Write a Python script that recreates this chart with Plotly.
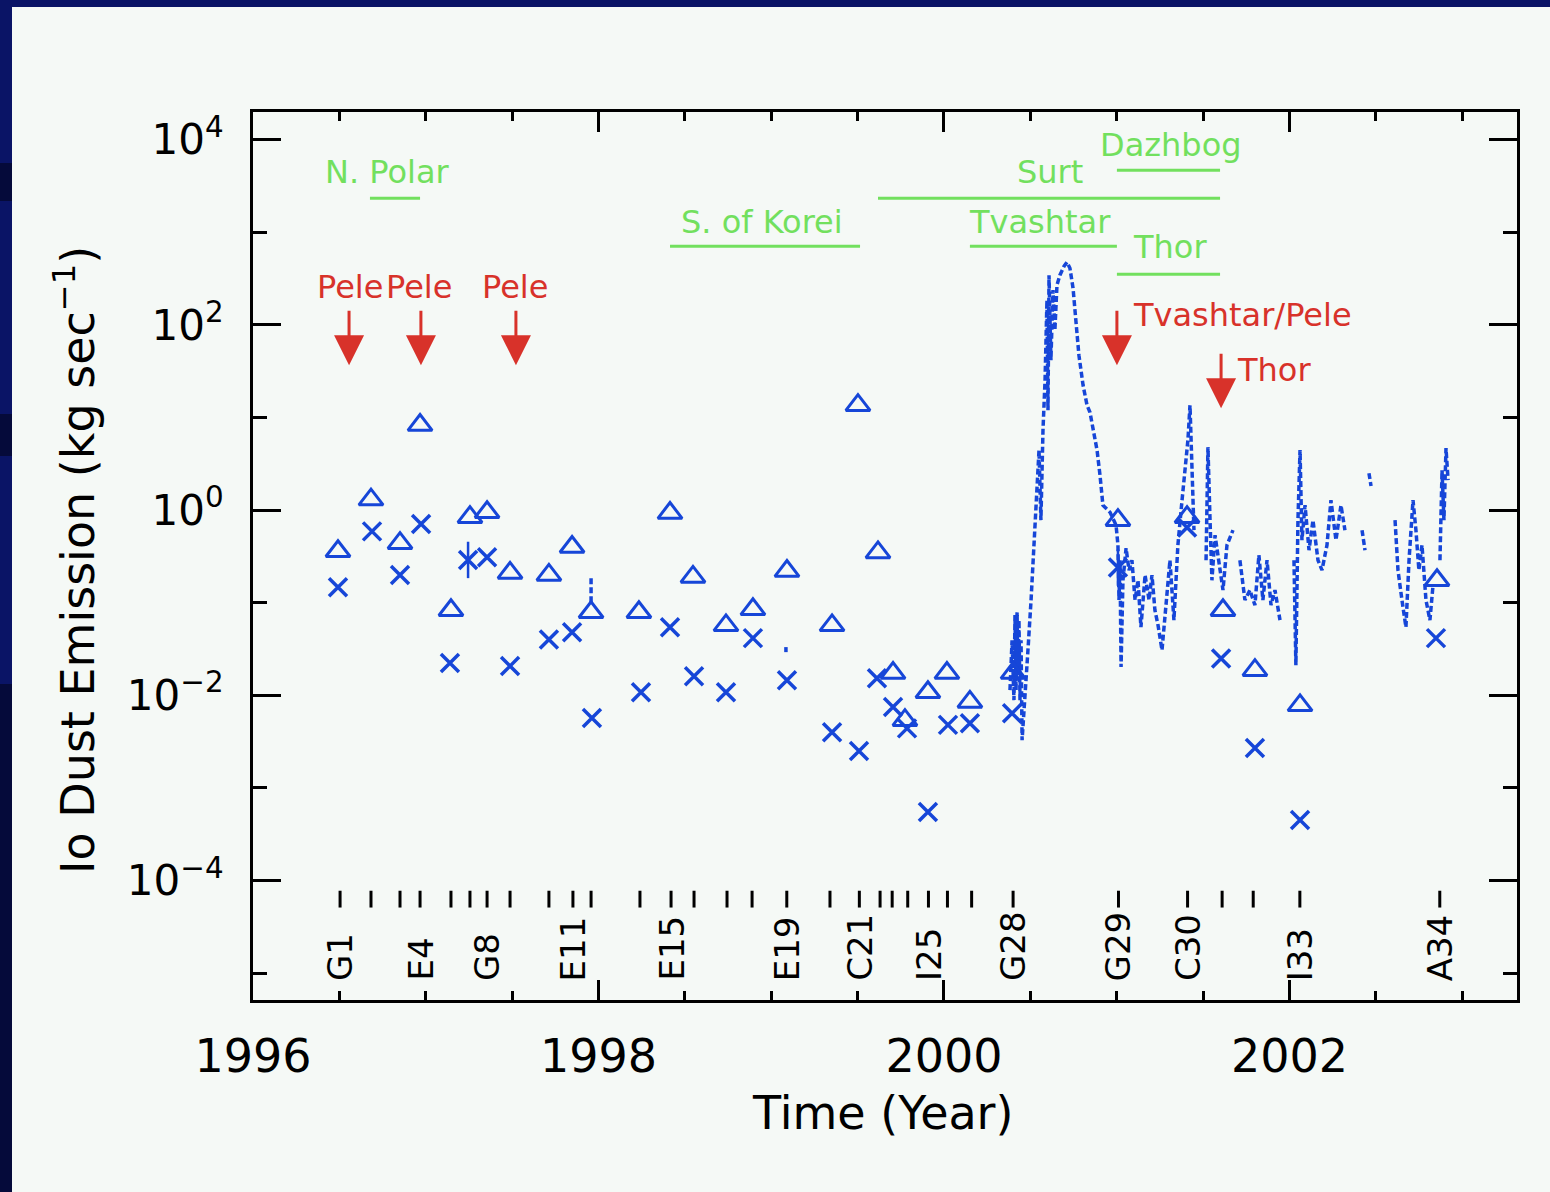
import numpy as np
import plotly.graph_objects as go

# ---------------- data ----------------
# Galileo orbit encounter times (decimal year)
orbit_years = [1996.504, 1996.683, 1996.851, 1996.967, 1997.146, 1997.256, 1997.355, 1997.488,
               1997.713, 1997.852, 1997.957, 1998.240, 1998.420, 1998.553, 1998.744, 1998.889,
               1999.090, 1999.340, 1999.510, 1999.630, 1999.700, 1999.790, 1999.910, 2000.020,
               2000.160, 2000.400, 2001.010, 2001.410, 2001.610, 2001.790, 2002.060, 2002.870]
orbit_labels = ['G1', 'E4', 'G8', 'E11', 'E15', 'E19', 'C21', 'I25', 'G28', 'G29', 'C30', 'I33', 'A34']
orbit_label_years = [1996.504, 1996.967, 1997.355, 1997.852, 1998.420, 1999.090, 1999.510,
                     1999.910, 2000.400, 2001.010, 2001.410, 2002.060, 2002.870]

# y tick labels
y_tick_vals = [1e-4, 1e-2, 1, 1e2, 1e4]
y_tick_text = ['10<sup>\u22124</sup>', '10<sup>\u22122</sup>', '10<sup>0</sup>',
               '10<sup>2</sup>', '10<sup>4</sup>']
y_minor_vals = [1e-5, 1e-3, 1e-1, 1e1, 1e3]

# triangles
tri_years = [1996.492, 1996.683, 1996.851, 1996.967, 1997.146, 1997.256, 1997.355, 1997.488,
             1997.713, 1997.847, 1997.957, 1998.234, 1998.414, 1998.547, 1998.738, 1998.894,
             1999.091, 1999.352, 1999.502, 1999.618, 1999.705, 1999.774, 1999.907, 2000.017,
             2000.150, 2000.400, 2001.007, 2001.407, 2001.615, 2001.800, 2002.061, 2002.854]
tri_vals = [0.36, 1.3, 0.44, 8.3, 0.083, 0.84, 0.95, 0.21, 0.20, 0.40, 0.079, 0.079, 0.93, 0.19,
            0.057, 0.085, 0.22, 0.057, 13.6, 0.35, 0.0174, 0.0054, 0.0108, 0.0174, 0.0085,
            0.0174, 0.78, 0.84, 0.083, 0.0187, 0.0078, 0.175]

# crosses
x_years = [1996.492, 1996.689, 1996.851, 1996.973, 1997.140, 1997.245, 1997.355, 1997.488,
           1997.713, 1997.847, 1997.962, 1998.246, 1998.414, 1998.553, 1998.738, 1998.894,
           1999.091, 1999.352, 1999.508, 1999.612, 1999.705, 1999.786, 1999.907, 2000.023,
           2000.150, 2000.394, 2001.007, 2001.407, 2001.604, 2001.800, 2002.061, 2002.848]
x_vals = [0.147, 0.59, 0.20, 0.71, 0.0223, 0.29, 0.31, 0.0207, 0.040, 0.048, 0.0057, 0.0108,
          0.0545, 0.0161, 0.0108, 0.0415, 0.0146, 0.0040, 0.0025, 0.0153, 0.0075, 0.0044,
          0.00055, 0.0048, 0.0050, 0.0064, 0.24, 0.65, 0.025, 0.0027, 0.00045, 0.0415]

# crosses with vertical bar (asterisk-like)
star_years = [1997.245, 2001.007]
star_vals = [0.29, 0.24]

# dust detector continuous record (None = gap)
dds_years = [1997.957, 1997.957, None, 1999.085, 1999.085, None,
             2000.382, 2000.394, 2000.405, 2000.411, 2000.417, 2000.423, 2000.428, 2000.434,
             2000.440, 2000.446, 2000.452, 2000.469, 2000.486, 2000.504, 2000.521, 2000.538,
             2000.550, 2000.561, 2000.573, 2000.585, 2000.596, 2000.602, 2000.608, 2000.619,
             2000.631, 2000.642, 2000.654, 2000.671, 2000.695, 2000.712, 2000.729, 2000.747,
             2000.764, 2000.781, 2000.805, 2000.828, 2000.845, 2000.862, 2000.886, 2000.903,
             2000.920, 2000.961, 2000.996,
             2001.007, 2001.013, 2001.019, 2001.025, 2001.036, 2001.054, 2001.071, 2001.088,
             2001.106, 2001.123, 2001.140, 2001.164, 2001.187, 2001.204, 2001.221, 2001.239,
             2001.262, 2001.285, 2001.308, 2001.331, 2001.354, 2001.378, 2001.395, 2001.412,
             2001.424, 2001.436, 2001.447, None,
             2001.517, 2001.528, 2001.540, 2001.551, 2001.569, 2001.592, 2001.615, 2001.638,
             2001.673, None,
             2001.713, 2001.742, 2001.771, 2001.800, 2001.823, 2001.846, 2001.870, 2001.893,
             2001.916, 2001.945, None,
             2002.026, 2002.037, 2002.049, 2002.061, 2002.072, 2002.090, 2002.113, 2002.136,
             2002.165, 2002.188, 2002.217, 2002.240, 2002.269, 2002.298, 2002.321, None,
             2002.420, 2002.437, None, 2002.460, 2002.472, None,
             2002.611, 2002.628, 2002.651, 2002.674, 2002.692, 2002.715, 2002.732, 2002.749,
             2002.767, 2002.790, 2002.813, 2002.831, None,
             2002.871, 2002.883, 2002.894, 2002.906, 2002.918]
dds_vals = [0.184, 0.094, None, 0.0332, 0.0293, None,
            0.0114, 0.0394, 0.00887, 0.0735, 0.0114, 0.0791, 0.0165, 0.0649,
            0.00887, 0.0394, 0.00328, 0.00887, 0.0308, 0.107, 0.419, 2.11,
            4.45, 0.78, 7.31, 25.4, 185, 12.0, 345, 41.7,
            238, 87.9, 269, 345, 431, 476, 410, 250,
            113, 47.2, 22.4, 13.6, 11.4, 7.31, 4.45, 2.39,
            1.13, 0.95, 0.689,
            0.419, 0.107, 0.288, 0.0202, 0.175, 0.389, 0.225, 0.288,
            0.107, 0.175, 0.0545, 0.199, 0.107, 0.199, 0.0832, 0.0573,
            0.0308, 0.107, 0.288, 0.0649, 0.419, 1.28, 2.70, 5.70,
            13.6, 2.70, 0.608, None,
            0.288, 4.79, 0.78, 0.175, 0.537, 0.288, 0.137, 0.419,
            0.608, None,
            0.288, 0.107, 0.137, 0.0942, 0.327, 0.107, 0.288, 0.0942,
            0.137, 0.0649, None,
            0.288, 0.0212, 0.78, 4.45, 0.474, 1.13, 0.370, 0.78,
            0.288, 0.225, 0.419, 1.28, 0.474, 1.13, 0.608, None,
            0.608, 0.370, None, 2.51, 1.82, None,
            0.78, 0.225, 0.107, 0.0545, 0.288, 1.28, 0.608, 0.225,
            0.419, 0.107, 0.0649, 0.155, None,
            0.288, 2.70, 0.78, 4.68, 2.11]

# active regions (green bars)
region_names = ['N. Polar', 'S. of Korei', 'Surt', 'Dazhbog', 'Tvashtar', 'Thor']
region_start = [1996.677, 1998.414, 1999.618, 2001.001, 2000.150, 2001.001]
region_end = [1996.967, 1999.514, 2001.598, 2001.598, 2001.001, 2001.598]
region_level = [2340, 710, 2340, 4700, 710, 354]
region_label_x = [1996.776, 1998.946, 2000.614, 2001.314, 2000.556, 2001.308]
region_label_level = [4470, 1290, 4470, 8750, 1290, 692]

# eruption events (red arrows)
erupt_names = ['Pele', 'Pele', 'Pele', 'Tvashtar/Pele', 'Thor']
erupt_years = [1996.556, 1996.972, 1997.522, 2001.001, 2001.604]
erupt_tip = [36.8, 36.8, 36.8, 36.8, 12.6]
erupt_label_x = [1996.562, 1996.961, 1997.517, 2001.080, 2001.684]
erupt_label_level = [256, 256, 256, 128, 32.5]
erupt_label_anchor = ['center', 'center', 'center', 'left', 'left']

# ---------------- style ----------------
FONT = 'DejaVu Sans'
BLUE = '#1646d8'
RED = '#d8322a'
GREEN = '#72e05e'
PANEL = '#f5f9f6'
NAVY = '#0a1466'
NAVY_DARK = '#050a3a'
ORBIT_TICK_LEVEL = 6.3e-5

W, H = 1550, 1192
ML, MR, MT, MB = 253, 33, 112, 192
PW, PH = W - ML - MR, H - MT - MB


def px2paper_x(px):
    return (px - ML) / PW


def px2paper_y(py):
    return (H - MB - py) / PH


fig = go.Figure()

fig.add_trace(go.Scatter(x=dds_years, y=dds_vals, mode='lines', connectgaps=False,
                         line=dict(color=BLUE, width=3.5, dash='6px,3px'), hoverinfo='skip'))
fig.add_trace(go.Scatter(x=tri_years, y=tri_vals, mode='markers',
                         marker=dict(symbol='triangle-up-open', size=21, color=BLUE,
                                     line=dict(width=3, color=BLUE))))
fig.add_trace(go.Scatter(x=x_years, y=x_vals, mode='markers',
                         marker=dict(symbol='x-thin-open', size=18, color=BLUE,
                                     line=dict(width=3.5, color=BLUE))))
fig.add_trace(go.Scatter(x=star_years, y=star_vals, mode='markers',
                         marker=dict(symbol='line-ns-open', size=26, color=BLUE,
                                     line=dict(width=2.5, color=BLUE))))
fig.add_trace(go.Scatter(x=orbit_years, y=[ORBIT_TICK_LEVEL] * len(orbit_years), mode='markers',
                         marker=dict(symbol='line-ns-open', size=12, color='black',
                                     line=dict(width=3, color='black'))))

for s, e, lv in zip(region_start, region_end, region_level):
    fig.add_trace(go.Scatter(x=[s, e], y=[lv, lv], mode='lines',
                             line=dict(color=GREEN, width=3), hoverinfo='skip'))

ann = []
for name, xx, lv in zip(region_names, region_label_x, region_label_level):
    ann.append(dict(x=xx, y=np.log10(lv), xref='x', yref='y', text=name, showarrow=False,
                    font=dict(family=FONT, size=32, color=GREEN), xanchor='center', yanchor='middle'))

for yr, tip in zip(erupt_years, erupt_tip):
    ann.append(dict(x=yr, y=np.log10(tip), xref='x', yref='y', text='', showarrow=True,
                    ax=0, ay=-56, arrowhead=2, arrowsize=2, arrowwidth=3, arrowcolor=RED,
                    standoff=0))
for name, xx, lv, anc in zip(erupt_names, erupt_label_x, erupt_label_level, erupt_label_anchor):
    ann.append(dict(x=xx, y=np.log10(lv), xref='x', yref='y', text=name, showarrow=False,
                    font=dict(family=FONT, size=32, color=RED), xanchor=anc, yanchor='middle'))

for lab, yr in zip(orbit_labels, orbit_label_years):
    ann.append(dict(x=yr, y=px2paper_y(983), xref='x', yref='paper', text=lab, showarrow=False,
                    textangle=-90, font=dict(family=FONT, size=34, color='black'),
                    xanchor='center', yanchor='bottom'))

ann.append(dict(x=px2paper_x(882), y=px2paper_y(1113), xref='paper', yref='paper',
                text='Time (Year)', showarrow=False, font=dict(family=FONT, size=46, color='black'),
                xanchor='center', yanchor='middle'))
ann.append(dict(x=px2paper_x(75), y=px2paper_y(560), xref='paper', yref='paper',
                text='Io Dust Emission (kg sec<sup>\u22121</sup>)', showarrow=False, textangle=-90,
                font=dict(family=FONT, size=46, color='black'), xanchor='center', yanchor='middle'))

shapes = [
    dict(type='rect', xref='paper', yref='paper', x0=px2paper_x(0), x1=px2paper_x(W),
         y0=px2paper_y(0), y1=px2paper_y(7), fillcolor=NAVY, line=dict(width=0), layer='below'),
    dict(type='rect', xref='paper', yref='paper', x0=px2paper_x(0), x1=px2paper_x(12),
         y0=px2paper_y(0), y1=px2paper_y(H), fillcolor=NAVY, line=dict(width=0), layer='below'),
]
for a, b in [(163, 201), (414, 456), (684, H)]:
    shapes.append(dict(type='rect', xref='paper', yref='paper', x0=px2paper_x(0), x1=px2paper_x(12),
                       y0=px2paper_y(a), y1=px2paper_y(b), fillcolor=NAVY_DARK,
                       line=dict(width=0), layer='below'))

axis_common = dict(showline=True, linewidth=3, linecolor='black', mirror='ticks',
                   showgrid=False, zeroline=False, ticks='inside', tickwidth=3,
                   tickcolor='black')

fig.update_layout(
    width=W, height=H,
    margin=dict(l=ML, r=MR, t=MT, b=MB, pad=0, autoexpand=False),
    paper_bgcolor=PANEL, plot_bgcolor=PANEL,
    showlegend=False,
    xaxis=dict(range=[1996, 2003.317], tick0=1996, dtick=2, ticklen=20, ticklabelstandoff=14,
               tickfont=dict(family=FONT, size=46, color='black'),
               minor=dict(tick0=1996, dtick=0.5, ticks='inside', ticklen=9, tickwidth=3,
                          tickcolor='black', showgrid=False),
               **axis_common),
    yaxis=dict(type='log', range=[-5.29, 4.30], tickmode='array', tickvals=y_tick_vals,
               ticktext=y_tick_text, ticklen=28, ticklabelstandoff=18,
               tickfont=dict(family=FONT, size=42, color='black'),
               minor=dict(tickmode='array', tickvals=y_minor_vals, ticks='inside', ticklen=14,
                          tickwidth=3, tickcolor='black', showgrid=False),
               **axis_common),
    annotations=ann,
    shapes=shapes,
)

fig.write_html('out.html')
